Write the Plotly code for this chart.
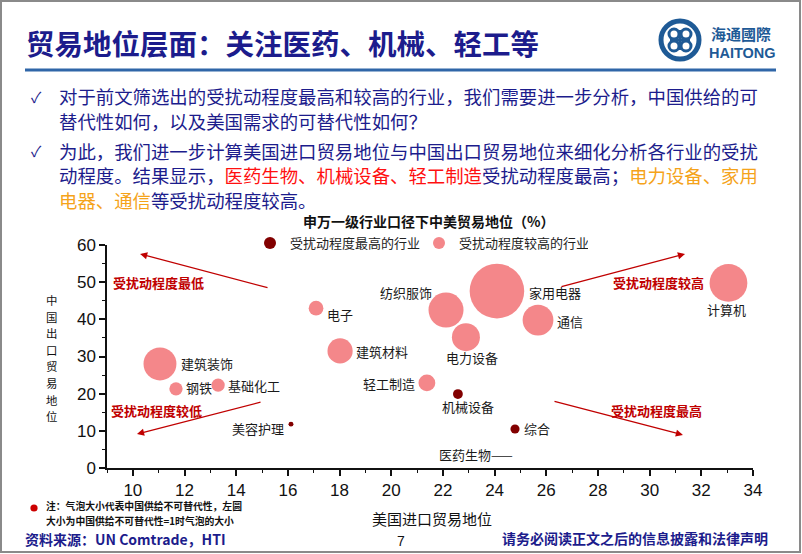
import plotly.graph_objects as go

# ---------------- data ----------------
hi_names = ["机械设备", "综合", "美容护理", "医药生物"]
hi_x = [22.58, 24.79, 16.12, 24.80]
hi_y = [19.9, 10.5, 11.8, 3.5]
hi_size = [1.4, 1.3, 0.7, 0.0]

mid_names = ["计算机", "家用电器", "纺织服饰", "通信", "电力设备", "电子",
             "建筑材料", "轻工制造", "建筑装饰", "钢铁", "基础化工"]
mid_x = [33.05, 24.09, 22.12, 25.68, 22.89, 17.09, 18.02, 21.38, 11.05, 11.67, 13.30]
mid_y = [49.8, 47.6, 42.5, 39.8, 35.2, 43.0, 31.5, 22.9, 28.0, 21.3, 22.3]
mid_size = [5.4, 7.8, 5.0, 4.4, 4.0, 2.1, 3.6, 2.4, 4.7, 1.9, 1.9]

x_ticks = list(range(10, 35, 2))
y_ticks = list(range(0, 61, 10))

# ---------------- styles ----------------
W, H = 802, 554
L, R, T, B = 107, 49, 245, 86
PW, PH = W - L - R, H - T - B
NAVY = "#1c1c8c"
ARROW_RED = "#c00000"
PINK = "#f4878a"
DARK = "#820000"
CJK = "Noto Sans CJK SC"

# label placement: (xanchor, xshift, yshift, suffix)
label_style = {
    "计算机": ("center", -2, -27, ""),
    "家用电器": ("left", 30, -1, ""),
    "纺织服饰": ("right", -12, 18, ""),
    "通信": ("left", 17, -1, ""),
    "电力设备": ("center", 6, -20, ""),
    "电子": ("left", 9, -6, ""),
    "建筑材料": ("left", 14, -1, ""),
    "轻工制造": ("right", -10, -1, ""),
    "建筑装饰": ("left", 19, 0, ""),
    "钢铁": ("left", 8, 1, ""),
    "基础化工": ("left", 8, 0, ""),
    "机械设备": ("center", 10, -12, ""),
    "综合": ("left", 7, 0, ""),
    "美容护理": ("right", -5, -4, ""),
    "医药生物": ("right", 0, 0, "——"),
}


def px(xp):
    return (xp - L) / PW


def py(yp):
    return (H - B - yp) / PH


fig = go.Figure()
fig.add_trace(go.Scatter(
    x=hi_x, y=hi_y, mode="markers", name="受扰动程度最高的行业",
    marker=dict(size=hi_size, sizemode="diameter", sizeref=1 / 7, color=DARK,
                line=dict(width=0), opacity=1),
    text=hi_names, cliponaxis=False,
))
fig.add_trace(go.Scatter(
    x=mid_x, y=mid_y, mode="markers", name="受扰动程度较高的行业",
    marker=dict(size=mid_size, sizemode="diameter", sizeref=1 / 7, color=PINK,
                line=dict(width=0), opacity=1),
    text=mid_names, cliponaxis=False,
))

annotations = []
for names, xs, ys in [(mid_names, mid_x, mid_y), (hi_names, hi_x, hi_y)]:
    for n, xv, yv in zip(names, xs, ys):
        xa, xs_, ys_, suf = label_style[n]
        annotations.append(dict(
            x=xv, y=yv, xref="x", yref="y", text=n + suf, showarrow=False,
            xanchor=xa, yanchor="middle", xshift=xs_, yshift=ys_,
            font=dict(family=CJK, size=13, color="#1a1a1a")))

# arrows (tail -> head) in data coords
arrows = [((15.27, 48.4), (10.28, 57.6)),
          ((15.00, 17.8), (10.16, 9.15)),
          ((26.53, 48.7), (31.37, 57.6)),
          ((26.26, 18.0), (31.29, 8.9))]
for (tx, ty), (hx, hy) in arrows:
    annotations.append(dict(
        x=hx, y=hy, ax=tx, ay=ty, xref="x", yref="y", axref="x", ayref="y",
        text="", showarrow=True, arrowhead=2, arrowsize=1.1, arrowwidth=1.3,
        arrowcolor=ARROW_RED, standoff=0))

zone_labels = [("受扰动程度最低", 11.01, 50.0), ("受扰动程度较低", 10.93, 15.6),
               ("受扰动程度较高", 30.36, 50.0), ("受扰动程度最高", 30.28, 15.6)]
for t, xv, yv in zone_labels:
    annotations.append(dict(
        x=xv, y=yv, xref="x", yref="y", text="<b>" + t + "</b>", showarrow=False,
        xanchor="center", yanchor="middle",
        font=dict(family=CJK, size=13, color=ARROW_RED)))


def text_px(xp, yp, text, size, color="#000", anchor="left", family=CJK):
    annotations.append(dict(
        x=px(xp), y=py(yp), xref="paper", yref="paper", text=text,
        showarrow=False, xanchor=anchor, yanchor="middle",
        font=dict(family=family, size=size, color=color)))


# page title
text_px(24, 42, "<b>贸易地位层面：关注医药、机械、轻工等</b>", 28.5, NAVY)
# bullets
text_px(29, 96, "✓", 15, NAVY)
text_px(29, 151, "✓", 15, NAVY)
RED = "#ff1010"
ORG = "#f5a31a"
text_px(57, 96, "对于前文筛选出的受扰动程度最高和较高的行业，我们需要进一步分析，中国供给的可", 18.4, NAVY)
text_px(57, 120.5, "替代性如何，以及美国需求的可替代性如何？", 18.4, NAVY)
text_px(57, 150.5, "为此，我们进一步计算美国进口贸易地位与中国出口贸易地位来细化分析各行业的受扰", 18.4, NAVY)
text_px(57, 175, "动程度。结果显示，<span style='color:%s'>医药生物、机械设备、轻工制造</span>受扰动程度最高；"
        "<span style='color:%s'>电力设备、家用</span>" % (RED, ORG), 18.4, NAVY)
text_px(57, 199.5, "<span style='color:%s'>电器、通信</span>等受扰动程度较高。" % ORG, 18.4, NAVY)

# chart title
text_px(428, 221, "<b>申万一级行业口径下中美贸易地位（%）</b>", 14, "#111", anchor="center")

# y axis title (stacked characters)
for i, ch in enumerate("中国出口贸易地位"):
    text_px(51, 300 + i * 16.6, ch, 11.4, "#111", anchor="center")
# x axis title
text_px(432, 518, "美国进口贸易地位", 15, "#111", anchor="center")

# note + footer
text_px(44, 506, "<b>注：气泡大小代表中国供给不可替代性，左圆</b>", 9.8, "#111")
text_px(44, 520.5, "<b>大小为中国供给不可替代性=1时气泡的大小</b>", 9.8, "#111")
text_px(23, 539, "<b>资料来源：UN Comtrade，HTI</b>", 14, NAVY)
text_px(401, 541, "7", 14, "#111", anchor="center", family="Liberation Sans")
text_px(770, 538, "<b>请务必阅读正文之后的信息披露和法律声明</b>", 14, NAVY, anchor="right")

# logo text
LOGO = "#1e5a96"
text_px(709, 34, "<b>海通國際</b>", 15, LOGO)
text_px(707, 53, "<b>HAITONG</b>", 14.5, LOGO, family="Liberation Sans")

shapes = []


def rect_px(x0, y0, x1, y1, **kw):
    shapes.append(dict(type="rect", xref="paper", yref="paper",
                       x0=px(x0), x1=px(x1), y0=py(y1), y1=py(y0), **kw))


def circ_px(cx, cy, r, **kw):
    shapes.append(dict(type="circle", xref="paper", yref="paper",
                       x0=px(cx - r), x1=px(cx + r), y0=py(cy + r), y1=py(cy - r), **kw))


def line_px(x0, y0, x1, y1, **kw):
    shapes.append(dict(type="line", xref="paper", yref="paper",
                       x0=px(x0), x1=px(x1), y0=py(y0), y1=py(y1), **kw))


# slide frame
rect_px(1, 1, 800, 552, line=dict(color="#8a8a8a", width=2), fillcolor="rgba(0,0,0,0)")
# title underline
line_px(25, 70, 776, 70, line=dict(color="#2f66a8", width=3))
# note dot
circ_px(34, 508, 3.6, fillcolor="#cc0000", line=dict(width=0))
# logo icon
circ_px(680, 40, 19, line=dict(color=LOGO, width=5), fillcolor="white")
for dx, dy in [(-6, -6), (6, -6), (-6, 6), (6, 6)]:
    circ_px(680 + dx, 40 + dy, 5, line=dict(color=LOGO, width=3), fillcolor="white")
line_px(670, 40, 690, 40, line=dict(color=LOGO, width=3))
line_px(680, 30, 680, 50, line=dict(color=LOGO, width=3))

axis_font = dict(family="Liberation Sans", size=17, color="#111")
fig.update_layout(
    width=W, height=H,
    margin=dict(l=L, r=R, t=T, b=B, pad=0),
    paper_bgcolor="white", plot_bgcolor="white",
    font=dict(family=CJK, color="#111"),
    showlegend=True,
    legend=dict(orientation="h", x=px(250), y=py(243), xanchor="left", yanchor="middle",
                bgcolor="rgba(0,0,0,0)", itemsizing="constant",
                entrywidth=124, entrywidthmode="pixels",
                font=dict(family=CJK, size=13, color="#222"), traceorder="normal"),
    xaxis=dict(range=[9, 34], tickvals=x_ticks, showgrid=False, zeroline=False,
               showline=True, linecolor="#111", linewidth=1.5, ticks="outside",
               ticklen=6, tickwidth=1.5, tickcolor="#111", tickfont=axis_font,
               minor=dict(dtick=1, tick0=9, ticks="outside", ticklen=3, tickcolor="#111",
                          tickwidth=1.2)),
    yaxis=dict(range=[0, 60], tickvals=y_ticks, showgrid=False, zeroline=False,
               showline=True, linecolor="#111", linewidth=1.5, ticks="outside",
               ticklen=6, tickwidth=1.5, tickcolor="#111", tickfont=axis_font,
               minor=dict(dtick=5, tick0=0, ticks="outside", ticklen=3, tickcolor="#111",
                          tickwidth=1.2)),
    annotations=annotations, shapes=shapes,
)

fig.write_html("out.html")
